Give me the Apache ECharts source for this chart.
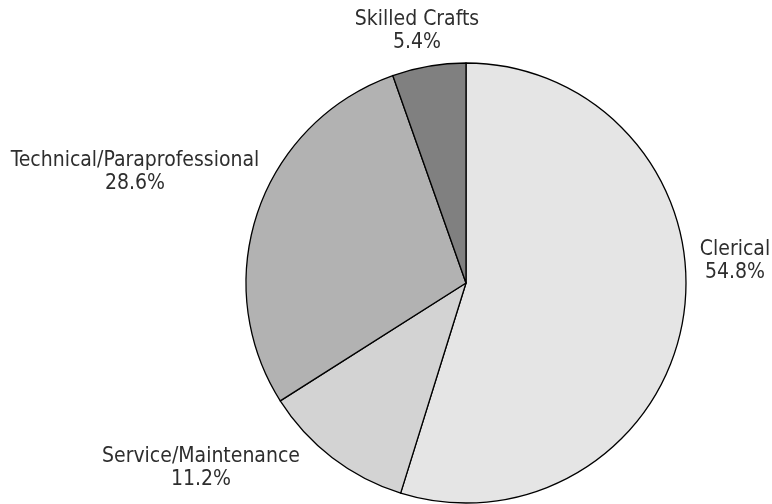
<!DOCTYPE html>
<html>
<head>
<meta charset="utf-8">
<script src="https://cdn.jsdelivr.net/npm/echarts@6/dist/echarts.min.js"></script>
<style>
  html, body { margin: 0; padding: 0; background: #fff; }
  #chart { width: 772px; height: 504px; }
</style>
</head>
<body>
<div id="chart"></div>
<script>
// Share of employees by job category (percent)
const categories = ['Clerical', 'Service/Maintenance', 'Technical/Paraprofessional', 'Skilled Crafts'];
const shares = [54.8, 11.2, 28.6, 5.4];
const sliceColors = ['#e5e5e5', '#d3d3d3', '#b2b2b2', '#808080'];

// Pie geometry
const pieCenter = [466, 283];
const pieRadius = 220;
// Label block centres, relative to the pie centre
const labelOffsets = [[269, -22], [-265, 185], [-331, -111], [-49, -252]];

const chart = echarts.init(document.getElementById('chart'), null, { renderer: 'canvas' });

chart.setOption({
  backgroundColor: '#ffffff',
  animation: false,
  series: [{
    type: 'pie',
    center: pieCenter,
    radius: pieRadius,
    startAngle: 90,
    clockwise: true,
    avoidLabelOverlap: false,
    data: categories.map((name, i) => ({
      name: name,
      value: shares[i],
      itemStyle: { color: sliceColors[i] }
    })),
    itemStyle: { borderColor: '#000', borderWidth: 1.3 },
    emphasis: { disabled: true },
    label: {
      show: true,
      position: 'outside',
      formatter: p => p.name + '\n' + p.value.toFixed(1) + '%',
      color: '#2e2e2e',
      fontFamily: '"Liberation Sans Narrow", "DejaVu Sans Condensed", sans-serif',
      fontSize: 21,
      lineHeight: 23,
      align: 'center'
    },
    labelLine: { show: false },
    labelLayout: params => {
      const o = labelOffsets[params.dataIndex];
      return {
        x: pieCenter[0] + o[0],
        y: pieCenter[1] + o[1],
        align: 'center',
        verticalAlign: 'middle'
      };
    }
  }]
});
</script>
</body>
</html>
